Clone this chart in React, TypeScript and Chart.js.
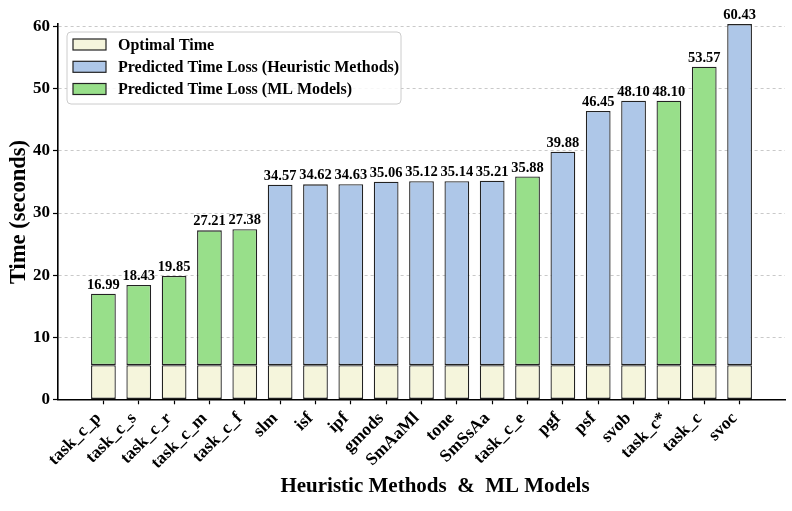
import { useEffect, useRef } from "react";
import { Chart, registerables } from "chart.js";

Chart.register(...registerables);

const FONT = "'Liberation Serif', 'Times New Roman', serif";

const categories = [
  "task_c_p", "task_c_s", "task_c_r", "task_c_m", "task_c_f",
  "slm", "isf", "ipf", "gmods", "SmAaMl", "tone", "SmSsAa",
  "task_c_e", "pgf", "psf", "svob", "task_c*", "task_c", "svoc",
];
const totalTimes = [
  16.99, 18.43, 19.85, 27.21, 27.38,
  34.57, 34.62, 34.63, 35.06, 35.12, 35.14, 35.21,
  35.88, 39.88, 46.45, 48.1, 48.1, 53.57, 60.43,
];
const optimalTimes = [
  5.5, 5.5, 5.5, 5.5, 5.5,
  5.5, 5.5, 5.5, 5.5, 5.5, 5.5, 5.5,
  5.5, 5.5, 5.5, 5.5, 5.5, 5.5, 5.5,
];
// "ml" = ML model, "h" = heuristic method
const methodTypes = [
  "ml", "ml", "ml", "ml", "ml",
  "h", "h", "h", "h", "h", "h", "h",
  "ml", "h", "h", "h", "ml", "ml", "h",
];
const yTicks = [0, 10, 20, 30, 40, 50, 60];
const seriesLabels = [
  "Optimal Time",
  "Predicted Time Loss (Heuristic Methods)",
  "Predicted Time Loss (ML Models)",
];
const xTitle = "Heuristic Methods  &  ML Models";
const yTitle = "Time (seconds)";

const COLORS = ["#f5f5dc", "#aec7e8", "#98df8a"];

const optimalData = optimalTimes.map((v, i) => ({ x: i, y: v }));
const heuristicData = totalTimes.map((t, i) => ({
  x: i,
  y: methodTypes[i] === "h" ? +(t - optimalTimes[i]).toFixed(2) : null,
}));
const mlData = totalTimes.map((t, i) => ({
  x: i,
  y: methodTypes[i] === "ml" ? +(t - optimalTimes[i]).toFixed(2) : null,
}));

const overlayPlugin = {
  id: "overlay",
  afterDatasetsDraw(chart: any) {
    const { ctx, scales } = chart;
    const xs = scales.x;
    const ys = scales.y;
    ctx.save();
    // value labels
    ctx.font = `bold 14.5px ${FONT}`;
    ctx.fillStyle = "#000";
    ctx.textAlign = "center";
    ctx.textBaseline = "alphabetic";
    totalTimes.forEach((t, i) => {
      ctx.fillText(t.toFixed(2), xs.getPixelForValue(i), ys.getPixelForValue(t) - 5);
    });

    // legend
    const lx = 67, ly = 32, lw = 334, lh = 72;
    ctx.beginPath();
    ctx.roundRect(lx, ly, lw, lh, 4);
    ctx.fillStyle = "rgba(255,255,255,0.85)";
    ctx.fill();
    ctx.strokeStyle = "#cccccc";
    ctx.lineWidth = 1;
    ctx.stroke();
    const rows = [44.5, 66.8, 89];
    ctx.font = `bold 16px ${FONT}`;
    ctx.textAlign = "left";
    ctx.textBaseline = "middle";
    chart.data.datasets.forEach((ds: any, k: number) => {
      const cy = rows[k];
      ctx.fillStyle = ds.backgroundColor;
      ctx.fillRect(73, cy - 5.5, 33, 11);
      ctx.strokeStyle = "#222";
      ctx.lineWidth = 1.2;
      ctx.strokeRect(73, cy - 5.5, 33, 11);
      ctx.fillStyle = "#000";
      ctx.fillText(ds.label, 118, cy + 1);
    });

    // axis titles
    ctx.font = `bold 21px ${FONT}`;
    ctx.textAlign = "center";
    ctx.textBaseline = "middle";
    ctx.fillText(xTitle, 435, 487);
    ctx.save();
    ctx.font = `bold 22.5px ${FONT}`;
    ctx.translate(19, 212);
    ctx.rotate(-Math.PI / 2);
    ctx.fillText(yTitle, 0, 0);
    ctx.restore();
    ctx.restore();
  },
};

export default function App() {
  const canvasRef = useRef<HTMLCanvasElement | null>(null);

  useEffect(() => {
    const canvas = canvasRef.current;
    if (!canvas) return;
    const common = {
      borderColor: "#222",
      borderWidth: 1.3,
      borderSkipped: false,
      barPercentage: 0.7,
      categoryPercentage: 1,
    };
    const chart = new Chart(canvas, {
      type: "bar",
      data: {
        datasets: [
          { label: seriesLabels[0], data: optimalData, backgroundColor: COLORS[0], ...common },
          { label: seriesLabels[1], data: heuristicData, backgroundColor: COLORS[1], ...common },
          { label: seriesLabels[2], data: mlData, backgroundColor: COLORS[2], ...common },
        ] as any,
      },
      options: {
        animation: false,
        responsive: false,
        devicePixelRatio: 1,
        layout: { padding: { left: 0, top: 24, right: 7, bottom: 0 } },
        plugins: {
          legend: { display: false },
          tooltip: { enabled: false },
          title: { display: false },
        },
        scales: {
          x: {
            type: "linear",
            stacked: true,
            offset: false,
            min: -1.285,
            max: categories.length - 1 + 1.285,
            afterBuildTicks: (s: any) => {
              s.ticks = categories.map((_, i) => ({ value: i }));
            },
            afterFit: (s: any) => {
              s.height = 111.7;
            },
            ticks: {
              autoSkip: false,
              minRotation: 45,
              maxRotation: 45,
              padding: 4,
              labelOffset: -5,
              color: "#000",
              font: { family: FONT, size: 17.5, weight: "bold" },
              callback: (v: any) => categories[Math.round(Number(v))] ?? "",
            },
            grid: {
              display: true,
              offset: false,
              drawOnChartArea: false,
              drawTicks: true,
              tickLength: 5,
              tickColor: "#000",
              tickWidth: 1.2,
            },
            border: { display: true, color: "#000", width: 1.6 },
          },
          y: {
            type: "linear",
            stacked: true,
            min: 0,
            max: 60.45,
            afterBuildTicks: (s: any) => {
              s.ticks = yTicks.map((v) => ({ value: v }));
            },
            afterFit: (s: any) => {
              s.width = 58;
            },
            ticks: {
              padding: 3,
              color: "#000",
              font: { family: FONT, size: 17, weight: "bold" },
            },
            grid: {
              display: true,
              drawOnChartArea: true,
              drawTicks: true,
              tickLength: 5,
              color: "rgba(170,170,170,0.8)",
              lineWidth: 0.8,
              tickColor: "#000",
              tickWidth: 1.2,
              tickBorderDash: [],
            },
            border: { display: true, color: "#000", width: 1.6, dash: [3, 3] },
          },
        },
      },
      plugins: [overlayPlugin],
    } as any);
    return () => chart.destroy();
  }, []);

  return (
    <div style={{ position: "fixed", left: 0, top: 0, width: 792, height: 511, background: "#fff" }}>
      <canvas ref={canvasRef} width={792} height={511} style={{ width: 792, height: 511, display: "block" }} />
    </div>
  );
}
